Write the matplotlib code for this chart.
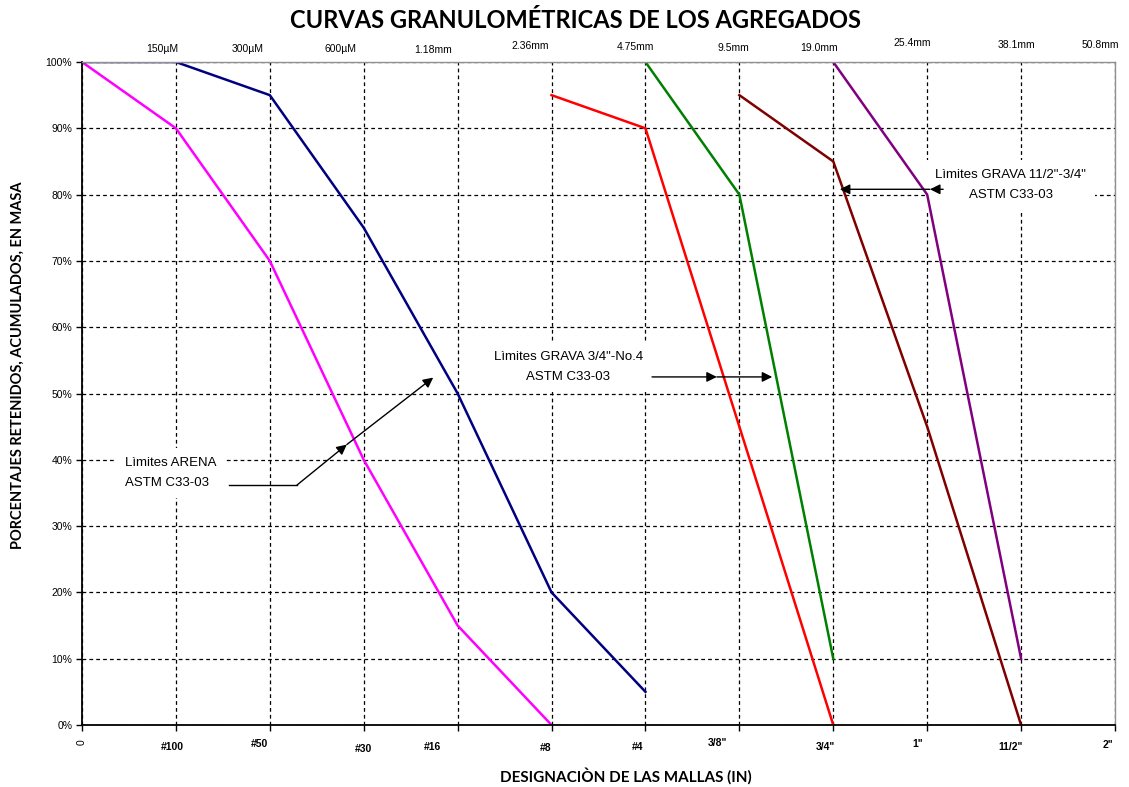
import numpy as np
import matplotlib.pyplot as plt
from matplotlib.transforms import ScaledTranslation

plt.rcParams["font.family"] = ["Liberation Sans", "DejaVu Sans"]

# designación de mallas (eje inferior) y abertura (eje superior)
mallas = ["0", "#100", "#50", "#30", "#16", "#8", "#4", '3/8"', '3/4"', '1"', '11/2"', '2"']
aberturas = ["150µM", "300µM", "600µM", "1.18mm", "2.36mm", "4.75mm",
             "9.5mm", "19.0mm", "25.4mm", "38.1mm", "50.8mm"]

# curvas límite: índice de malla vs % retenido acumulado
arena_inf_x = [0, 1, 2, 3, 4, 5]
arena_inf_y = [100, 90, 70, 40, 15, 0]
arena_sup_x = [0, 1, 2, 3, 4, 5, 6]
arena_sup_y = [100, 100, 95, 75, 50, 20, 5]
grava34_inf_x = [5, 6, 7, 8]
grava34_inf_y = [95, 90, 45, 0]
grava34_sup_x = [6, 7, 8]
grava34_sup_y = [100, 80, 10]
grava112_inf_x = [7, 8, 9, 10]
grava112_inf_y = [95, 85, 45, 0]
grava112_sup_x = [8, 9, 10]
grava112_sup_y = [100, 80, 10]

fig = plt.figure(figsize=(11.29, 7.87), dpi=100)
ax = fig.add_axes([82 / 1129, 62 / 787, 1033 / 1129, 663 / 787])

ax.set_axisbelow(True)
ax.grid(True, color="black", linestyle=(0, (3, 2.5)), linewidth=0.9)

lw = 1.8
ax.plot(arena_inf_x, arena_inf_y, color="#FF00FF", lw=lw, zorder=2)
ax.plot(arena_sup_x, arena_sup_y, color="#000080", lw=lw, zorder=2)
ax.plot(grava34_inf_x, grava34_inf_y, color="#FF0000", lw=lw, zorder=2)
ax.plot(grava34_sup_x, grava34_sup_y, color="#008000", lw=lw, zorder=2)
ax.plot(grava112_inf_x, grava112_inf_y, color="#800000", lw=lw, zorder=2)
ax.plot(grava112_sup_x, grava112_sup_y, color="#800080", lw=lw, zorder=2)

ax.set_xlim(0, 11)
ax.set_ylim(0, 100)

ax.tick_params(axis="both", direction="out", length=4, width=1, color="black", pad=3)
ax.tick_params(axis="x", pad=8)

# eje y
ax.set_yticks(np.arange(0, 101, 10))
ax.set_yticklabels([f"{v}%" for v in range(0, 101, 10)], fontsize=7.5)

# eje x inferior (etiquetas algo desplazadas como en el original)
ax.set_xticks(range(len(mallas)))
ax.set_xticklabels(mallas, fontsize=7.5, fontweight="bold")
off_inf = [(0, 2), (-4, 0), (-10, 3), (0, -2), (-25, 0), (-6, -1),
           (-8, 0), (-22, 4), (-8, 0), (-9, 3), (-11, 0), (-7, 2)]
for lab, (dx, dy) in zip(ax.get_xticklabels(), off_inf):
    lab.set_transform(lab.get_transform() + ScaledTranslation(dx / 100, dy / 100, fig.dpi_scale_trans))
ax.get_xticklabels()[0].set_rotation(90)
ax.get_xticklabels()[0].set_fontweight("normal")

# eje x superior
sec = ax.secondary_xaxis("top")
sec.set_xticks(range(1, 12))
sec.set_xticklabels(aberturas, fontsize=7.5)
sec.tick_params(length=0, pad=6)
sec.spines["top"].set_visible(False)
off_sup = [(-14, 0), (-22, 0), (-23, 0), (-25, -1), (-21, 3), (-10, 2),
           (-6, 1), (-14, 1), (-15, 6), (-5, 4), (-15, 4)]
for lab, (dx, dy) in zip(sec.get_xticklabels(), off_sup):
    lab.set_transform(lab.get_transform() + ScaledTranslation(dx / 100, dy / 100, fig.dpi_scale_trans))

for s in ["left", "bottom"]:
    ax.spines[s].set_color("black")
    ax.spines[s].set_linewidth(1.3)
for s in ["top", "right"]:
    ax.spines[s].set_color("#909090")
    ax.spines[s].set_linewidth(1.0)

# anotaciones
caja = dict(facecolor="white", edgecolor="none", boxstyle="square,pad=0.7")
flecha = dict(arrowstyle="-|>", color="black", lw=1, mutation_scale=15,
              shrinkA=0, shrinkB=0)
fs_nota = 9.5

ax.text(0.46, 38.0, "Lìmites ARENA\nASTM C33-03", fontsize=fs_nota, ha="left", va="center",
        linespacing=1.85, bbox=caja, zorder=1.5)
arena_fl_x = [1.565, 2.29]
arena_fl_y = [36.2, 36.2]
ax.plot(arena_fl_x, arena_fl_y, color="black", lw=1, zorder=3)
ax.annotate("", xy=(2.82, 42.3), xytext=(2.29, 36.2), arrowprops=flecha, zorder=3)
ax.annotate("", xy=(3.74, 52.4), xytext=(2.82, 42.3), arrowprops=flecha, zorder=3)

ax.text(5.18, 54.0, 'Lìmites GRAVA 3/4"-No.4\nASTM C33-03', fontsize=fs_nota, ha="center",
        va="center", linespacing=1.85, bbox=caja, zorder=1.5)
ax.annotate("", xy=(6.76, 52.5), xytext=(6.07, 52.5), arrowprops=flecha, zorder=3)
ax.annotate("", xy=(7.35, 52.5), xytext=(6.76, 52.5), arrowprops=flecha, zorder=3)

ax.text(9.89, 81.4, 'Lìmites GRAVA 11/2"-3/4"\nASTM C33-03', fontsize=fs_nota, ha="center",
        va="center", linespacing=1.85, bbox=caja, zorder=1.5)
ax.annotate("", xy=(9.03, 80.8), xytext=(9.17, 80.8), arrowprops=flecha, zorder=3)
ax.annotate("", xy=(8.07, 80.8), xytext=(9.03, 80.8), arrowprops=flecha, zorder=3)

# títulos
fig.text(576 / 1129, 1 - 20 / 787, "CURVAS GRANULOMÉTRICAS DE LOS AGREGADOS",
         ha="center", va="center", fontsize=17, fontweight="bold", family=["Lato", "DejaVu Sans"])
fig.text(626 / 1129, 1 - 776 / 787, "DESIGNACIÒN DE LAS MALLAS (IN)",
         ha="center", va="center", fontsize=11, fontweight="bold", family=["Lato", "DejaVu Sans"])
fig.text(18 / 1129, 1 - 365 / 787, "PORCENTAJES RETENIDOS, ACUMULADOS, EN MASA",
         ha="center", va="center", rotation=90, fontsize=10.5, fontweight="bold",
         family=["Lato", "DejaVu Sans"])

fig.savefig("out.png", dpi=100)
